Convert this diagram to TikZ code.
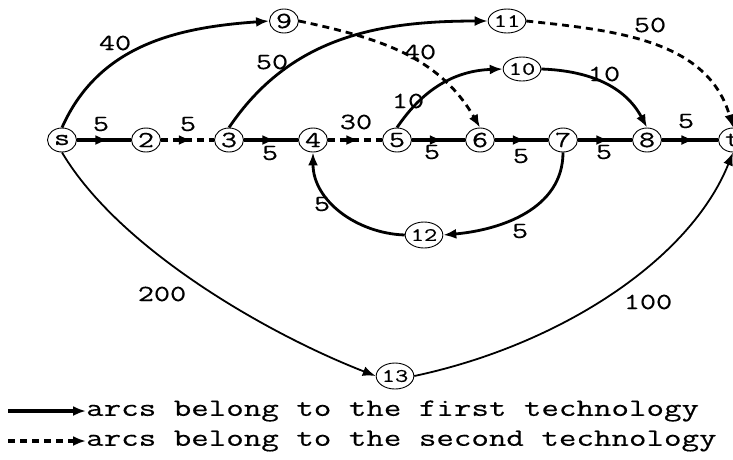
\documentclass[tikz,border=0pt]{standalone}
\usepackage{fontspec}
\newfontfamily\mono[FakeStretch=1.36,FakeBold=0.4]{Latin Modern Mono}
\usetikzlibrary{arrows.meta,decorations.markings,shapes.geometric}
\begin{document}
\begin{tikzpicture}[x=1pt,y=-1pt,
  vtx/.style={draw,ellipse,line width=0.9pt,inner sep=0pt,minimum width=29pt,minimum height=24pt,font=\mono\fontsize{23}{23}\selectfont},
  vtxs/.style={vtx,minimum width=26pt,minimum height=26pt,font=\mono\fontsize{19}{19}\selectfont},
  arcedge/.style={line width=2.8pt},
  flatedge/.style={line width=3.2pt},
  arcthin/.style={line width=1.8pt},
  second/.style={dash pattern=on 7pt off 5pt},
  tip/.style={-{Latex[length=13pt,width=10pt]}},
  midtip/.style={postaction={decorate},decoration={markings,mark=at position 0.58 with {\arrow{Latex[length=13pt,width=10pt]}}}},
  lab/.style={font=\mono\fontsize{23}{23}\selectfont,inner sep=0pt},
  legtext/.style={font=\mono\fontsize{25}{25}\selectfont,inner sep=0pt,anchor=west}]
\useasboundingbox (0,0) rectangle (733,459);

% vertices
\node[vtx] (s) at (62,140) {s};
\node[vtx] (n2) at (146,140) {2};
\node[vtx] (n3) at (229,140) {3};
\node[vtx] (n4) at (313,140) {4};
\node[vtx] (n5) at (397,140) {5};
\node[vtx] (n6) at (480,140) {6};
\node[vtx] (n7) at (563,140) {7};
\node[vtx] (n8) at (647,140) {8};
\node[vtx] (t) at (733,140) {t};
\node[vtx] (n9) at (284,21) {9};
\node[vtxs,minimum height=24pt] (n11) at (507,21) {11};
\node[vtxs,minimum height=24pt] (n10) at (522,69) {10};
\node[vtxs] (n12) at (424,235) {12};
\node[vtxs] (n13) at (395,376) {13};

% main line
\draw[flatedge,midtip] (s) -- (n2);
\draw[flatedge,second,midtip] (n2) -- (n3);
\draw[flatedge,midtip] (n3) -- (n4);
\draw[flatedge,second,midtip] (n4) -- (n5);
\draw[flatedge,midtip] (n5) -- (n6);
\draw[flatedge,midtip] (n6) -- (n7);
\draw[flatedge,midtip] (n7) -- (n8);
\draw[flatedge,midtip] (n8) -- (t);

% upper arcs
\draw[arcedge,tip] (s.north) to[out=66,in=184] (n9.west);
\draw[arcedge,tip] (n3.north) to[out=56,in=180] (n11.west);
\draw[arcedge,second,tip] (n9.east) to[out=-12,in=120] (n6.north);
\draw[arcedge,second,tip] (n11.east) to[out=-6,in=106] (t.north);
\draw[arcedge,tip] (n5.north) to[out=56,in=182] (n10.west);
\draw[arcedge,tip] (n10.east) to[out=-2,in=118] (n8.north);

% lower arcs
\draw[arcedge,tip] (n7.south) to[out=-90,in=5] (n12.east);
\draw[arcedge,tip] (n12.west) to[out=178,in=-90] (n4.south);
\draw[arcthin,tip] (s.south) .. controls (120,250) and (270,335) .. (n13.west);
\draw[arcthin,tip] (n13.east) .. controls (560,345) and (690,260) .. (t.south);

% arc weights
\node[lab] (w1) at (101,124) {5};
\node[lab] (w2) at (188,124) {5};
\node[lab] (w3) at (270,153) {5};
\node[lab] (w4) at (356,122) {30};
\node[lab] (w5) at (432,152) {5};
\node[lab] (w6) at (521,156) {5};
\node[lab] (w7) at (604,152) {5};
\node[lab] (w8) at (686,121) {5};
\node[lab] (w9) at (115,43) {40};
\node[lab] (w10) at (272,62) {50};
\node[lab] (w11) at (420,52) {40};
\node[lab] (w12) at (650,25) {50};
\node[lab] (w13) at (408,101) {10};
\node[lab] (w14) at (604,74) {10};
\node[lab] (w15) at (520,231) {5};
\node[lab] (w16) at (322,204) {5};
\node[lab] (w17) at (162,294) {200};
\node[lab] (w18) at (648,302) {100};

% legend
\node[legtext] (l1) at (86,411) {arcs belong to the first technology};
\node[legtext] (l2) at (86,441) {arcs belong to the second technology};
\coordinate (a1) at (8,411);
\coordinate (a2) at (8,441);
\draw[flatedge,tip] (a1) -- (l1.west);
\draw[flatedge,second,tip] (a2) -- (l2.west);
\end{tikzpicture}
\end{document}
